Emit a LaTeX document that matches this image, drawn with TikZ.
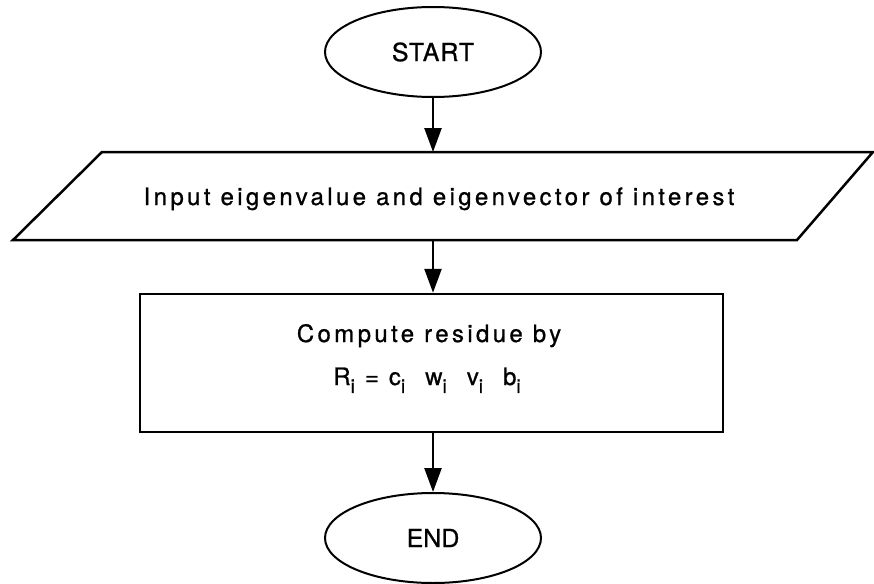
\documentclass[tikz,border=0pt]{standalone}
\usepackage{fontspec}
\setmainfont{TeX Gyre Heros}[FakeBold=0.8]
\newfontfamily\lsfont{TeX Gyre Heros}[LetterSpace=14,FakeBold=0.8]
\newfontfamily\midfont{TeX Gyre Heros}[LetterSpace=4,FakeBold=0.8]
\usetikzlibrary{shapes.geometric,arrows.meta}
\newcommand{\sbi}{\raisebox{-0.33em}{\fontsize{19}{19}\selectfont i}}
\begin{document}
\begin{tikzpicture}[x=1pt,y=-1pt,
  term/.style={ellipse, draw, line width=2pt, minimum width=216pt, minimum height=90pt, inner sep=0pt,
    font=\midfont\fontsize{25}{28}\selectfont},
  procbox/.style={draw, line width=2.5pt, minimum width=583pt, minimum height=138pt, inner sep=0pt},
  shapeline/.style={draw, line width=2.5pt, line join=miter},
  txt/.style={inner sep=0pt, font=\lsfont\fontsize{24}{28}\selectfont},
  arr/.style={line width=2.5pt, -{Triangle[length=24pt,width=17pt]}}]
\useasboundingbox (0,0) rectangle (874,583);
% START
\node[term] (start) at (433,52) {START};
% input parallelogram
\coordinate (pTL) at (102,152);
\coordinate (pTR) at (873,152);
\coordinate (pBR) at (797,240);
\coordinate (pBL) at (13,240);
\draw[shapeline] (pTL) -- (pTR) -- (pBR) -- (pBL) -- cycle;
\node[txt, anchor=base] (inp) at (439,205) {Input eigenvalue and eigenvector of interest};
% compute box
\node[procbox] (comp) at (431.5,363) {};
\node[txt, anchor=base] (l1) at (429,342) {Compute residue by};
\node[txt, anchor=base] (l2) at (427,385) {R\sbi\ = c\sbi\ \ w\sbi\ \ v\sbi\ \ b\sbi};
% END
\node[term, font=\fontsize{25}{28}\selectfont] (end) at (433,538) {END};
% connectors
\draw[arr] (start.south) -- (start.south |- pTL);
\draw[arr] (start |- pBL) -- (start |- comp.north);
\draw[arr] (start |- comp.south) -- (end.north);
\end{tikzpicture}
\end{document}
